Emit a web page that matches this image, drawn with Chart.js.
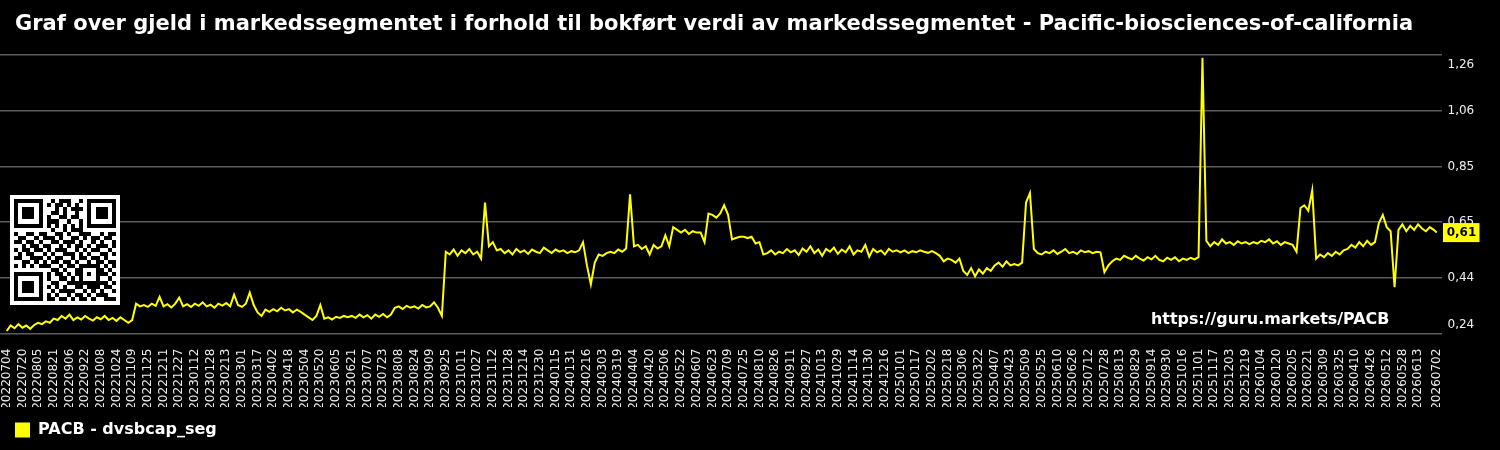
<!DOCTYPE html>
<html>
<head>
<meta charset="utf-8">
<script src="https://cdn.jsdelivr.net/npm/chart.js@4.4.1/dist/chart.umd.min.js"></script>
<style>
  html, body { margin: 0; padding: 0; background: #000; }
</style>
</head>
<body>
<canvas id="chart" width="1500" height="450"></canvas>
<script>
document.addEventListener("DOMContentLoaded", function() {

/*
  ===================== data
*/
const titleText = 'Graf over gjeld i markedssegmentet i forhold til bokført verdi av markedssegmentet - Pacific-biosciences-of-california';
const seriesLabel = 'PACB - dvsbcap_seg';
const watermark = 'https://guru.markets/PACB';

// one value every 4 days from 2022-07-04, last one is 2026-07-02
const firstDay = '2022-07-04';
const lastDay = '2026-07-02';
const stepDays = 4;
const tickStepDays = 16;

const vals2022 = [0.25, 0.27, 0.26, 0.275, 0.262, 0.27, 0.258, 0.272,
  0.28, 0.275, 0.285, 0.28, 0.295,
  0.29, 0.305, 0.295, 0.31, 0.29, 0.3, 0.292, 0.305, 0.295, 0.288,
  0.3, 0.293, 0.305, 0.29, 0.298, 0.287, 0.3, 0.29, 0.28, 0.29,
  0.35, 0.34, 0.345, 0.338, 0.35, 0.342, 0.375, 0.34, 0.348, 0.336, 0.35, 0.372, 0.34];
const vals2023 = [0.348, 0.338, 0.35, 0.342, 0.355, 0.34, 0.346, 0.335, 0.35, 0.343,
  0.352, 0.34, 0.383, 0.345, 0.338, 0.35, 0.39, 0.345,
  0.318, 0.305, 0.328, 0.32, 0.33, 0.322, 0.335, 0.325, 0.33, 0.318, 0.328, 0.32, 0.31,
  0.3, 0.29, 0.305, 0.345, 0.295, 0.3, 0.292, 0.302, 0.298, 0.305,
  0.3, 0.305, 0.298, 0.31, 0.3, 0.308, 0.295, 0.31, 0.302, 0.312, 0.3, 0.31,
  0.335,
  0.34, 0.33, 0.342, 0.335, 0.34, 0.332, 0.345, 0.336, 0.34, 0.355,
  0.335, 0.305,
  0.54, 0.53, 0.548, 0.525, 0.545, 0.535, 0.55, 0.53, 0.54, 0.515,
  0.72,
  0.56, 0.575, 0.545, 0.55, 0.535,
  0.545, 0.53, 0.55, 0.538, 0.545, 0.532, 0.548, 0.54, 0.535];
const vals2024 = [0.555, 0.545, 0.535, 0.548, 0.54, 0.545, 0.535, 0.542, 0.538, 0.545,
  0.575, 0.49, 0.42, 0.5,
  0.53, 0.525, 0.535, 0.54, 0.535, 0.548, 0.54, 0.552,
  0.75,
  0.56, 0.565, 0.55, 0.56, 0.53, 0.565, 0.552, 0.56, 0.6, 0.56,
  0.63, 0.62, 0.61, 0.62, 0.605, 0.615, 0.61, 0.61,
  0.575, 0.68,
  0.675, 0.665, 0.68, 0.71, 0.675,
  0.585,
  0.59, 0.595, 0.595, 0.59, 0.595,
  0.57, 0.575,
  0.53,
  0.535, 0.545, 0.53, 0.54, 0.535, 0.55, 0.538, 0.545, 0.528, 0.552,
  0.54, 0.56, 0.535, 0.548, 0.525, 0.55, 0.54, 0.555, 0.532, 0.548,
  0.538, 0.56, 0.53, 0.545, 0.54, 0.565, 0.522, 0.55, 0.538, 0.545,
  0.53, 0.55, 0.54, 0.545];
const vals2025 = [0.538, 0.545, 0.535, 0.542, 0.538, 0.545, 0.54, 0.536, 0.542, 0.535,
  0.525, 0.505, 0.515, 0.51, 0.5, 0.515,
  0.47, 0.455, 0.48, 0.45, 0.475, 0.46, 0.48, 0.47,
  0.49, 0.5, 0.485, 0.505, 0.49, 0.495, 0.49, 0.5,
  0.72, 0.755,
  0.55, 0.535, 0.53, 0.54, 0.535, 0.545, 0.532, 0.54, 0.55, 0.535,
  0.54, 0.532, 0.545, 0.538, 0.542, 0.535, 0.54, 0.538,
  0.465,
  0.49, 0.505, 0.515, 0.51, 0.525, 0.518, 0.512, 0.525, 0.515, 0.508,
  0.52, 0.512, 0.525, 0.51, 0.505, 0.518, 0.51, 0.52, 0.505, 0.515,
  0.51, 0.518, 0.512, 0.52,
  1.25,
  0.58, 0.56, 0.575, 0.565, 0.585, 0.57, 0.575, 0.565, 0.578, 0.57, 0.575, 0.568, 0.575,
  0.57];
const vals2026 = [0.58, 0.575, 0.585, 0.57, 0.578, 0.565, 0.575, 0.57, 0.565,
  0.54,
  0.7, 0.71, 0.69, 0.765,
  0.515, 0.53, 0.52, 0.535, 0.525, 0.54, 0.53, 0.545,
  0.55, 0.565, 0.555, 0.575, 0.56, 0.58, 0.565, 0.575,
  0.645, 0.675,
  0.63, 0.615, 0.41, 0.62, 0.64, 0.615, 0.635, 0.62, 0.64, 0.625, 0.615, 0.63, 0.62,
  0.61];

const yTicks = [0.24, 0.444, 0.648, 0.852, 1.056, 1.26];
const yTickLabels = ['0,24', '0,44', '0,65', '0,85', '1,06', '1,26'];

// qr code modules (finder / timing / alignment patterns are added in drawQr)
const qrRows = [
  "1011001101011100101101001",
  "0110110010110101001011010",
  "1101011100101011100110101",
  "0010110101101001011101100",
  "1110100110011011010010111",
  "0101101011100100110101001",
  "1010011010101101001101011",
  "0111010101001011100110100",
  "1001101100110100111001011",
  "0110010111010011010110110",
  "1101101001101110100101001",
  "0010110110010101101011101",
  "1011011010111001010110010",
  "0101100101001110101001101",
  "1100111010110010110110100",
  "0011010101101101001011011",
  "1010101110010110110100101",
  "0101011001101001011011010",
  "1110100110110101100101101",
  "0011011010011010111010010",
  "1001101101100111010101101",
  "0110010110101001101110110",
  "1011101001011110010101001",
  "0100110110100101101011100",
  "1101011011011010110100111"
];

/*
  ===================== build
*/
const dayMs = 86400000;
const t0 = Date.parse(firstDay + 'T00:00:00Z');
const t1 = Date.parse(lastDay + 'T00:00:00Z');
const totalDays = Math.round((t1 - t0) / dayMs);

const values = [].concat(vals2022, vals2023, vals2024, vals2025, vals2026);
const dayIndex = values.map((v, i) => i === values.length - 1 ? totalDays : i * stepDays);
const points = values.map((v, i) => ({ x: dayIndex[i], y: v }));

const tickDays = [];
for (let d = 0; d <= totalDays - tickStepDays; d += tickStepDays) tickDays.push(d);
tickDays.push(totalDays);

function fmtDay(d) {
  const dt = new Date(t0 + d * dayMs);
  const mm = String(dt.getUTCMonth() + 1).padStart(2, '0');
  const dd = String(dt.getUTCDate()).padStart(2, '0');
  return dt.getUTCFullYear() + mm + dd;
}

function drawQr(ctx, x0, y0, size) {
  const n = 25;
  const m = size / (n + 2);
  const grid = qrRows.map(r => r.split('').map(Number));
  [[0, 0], [0, 18], [18, 0]].forEach(([r0, c0]) => {
    for (let r = -1; r <= 7; r++) {
      for (let c = -1; c <= 7; c++) {
        const rr = r0 + r, cc = c0 + c;
        if (rr < 0 || cc < 0 || rr >= n || cc >= n) continue;
        const ring = Math.max(Math.abs(r - 3), Math.abs(c - 3));
        grid[rr][cc] = (ring === 3 || ring <= 1) ? 1 : 0;
      }
    }
  });
  for (let k = 8; k <= 16; k++) {
    grid[6][k] = k % 2 === 0 ? 1 : 0;
    grid[k][6] = k % 2 === 0 ? 1 : 0;
  }
  for (let r = -2; r <= 2; r++) {
    for (let c = -2; c <= 2; c++) {
      const ring = Math.max(Math.abs(r), Math.abs(c));
      grid[18 + r][18 + c] = ring === 1 ? 0 : 1;
    }
  }
  ctx.fillStyle = '#fff';
  ctx.fillRect(x0, y0, size, size);
  ctx.fillStyle = '#000';
  for (let r = 0; r < n; r++) {
    for (let c = 0; c < n; c++) {
      if (!grid[r][c]) continue;
      const xa = Math.round(x0 + m * (c + 1)), xb = Math.round(x0 + m * (c + 2));
      const ya = Math.round(y0 + m * (r + 1)), yb = Math.round(y0 + m * (r + 2));
      ctx.fillRect(xa, ya, xb - xa, yb - ya);
    }
  }
}

// title, y labels, last value, watermark, qr
const overlay = {
  id: 'overlay',
  beforeDraw(chart) {
    const ctx = chart.ctx;
    ctx.save();
    ctx.fillStyle = '#000';
    ctx.fillRect(0, 0, chart.width, chart.height);
    ctx.restore();
  },
  afterDraw(chart) {
    const ctx = chart.ctx;
    const yScale = chart.scales.y;
    const area = chart.chartArea;
    ctx.save();
    ctx.textAlign = 'left';
    ctx.textBaseline = 'middle';

    ctx.fillStyle = '#fff';
    ctx.font = 'bold 21px "DejaVu Sans"';
    ctx.fillText(titleText, 15, 25);

    ctx.font = '12px "DejaVu Sans"';
    ctx.fillStyle = '#eeeeee';
    yTicks.forEach((v, i) => {
      let py = yScale.getPixelForValue(v);
      if (i === 0) py -= 9;
      if (i === yTicks.length - 1) py += 9.5;
      ctx.fillText(yTickLabels[i], area.right + 5.5, py);
    });

    const last = values[values.length - 1];
    const ly = yScale.getPixelForValue(last);
    ctx.fillStyle = '#ffff00';
    ctx.fillRect(area.right + 1, ly - 9.5, 36.5, 19);
    ctx.fillStyle = '#000';
    ctx.font = 'bold 12px "DejaVu Sans"';
    ctx.textAlign = 'center';
    ctx.fillText(last.toFixed(2).replace('.', ','), area.right + 19.5, ly + 0.5);

    ctx.fillStyle = '#fff';
    ctx.font = 'bold 15.9px "DejaVu Sans"';
    ctx.textAlign = 'left';
    ctx.fillText(watermark, 1151, 320);

    drawQr(ctx, 10, 195, 110);
    ctx.restore();
  }
};

new Chart(document.getElementById('chart'), {
  type: 'line',
  data: {
    datasets: [{
      label: seriesLabel,
      data: points,
      borderColor: '#ffff00',
      backgroundColor: '#ffff00',
      borderWidth: 2,
      pointRadius: 0,
      tension: 0
    }]
  },
  options: {
    responsive: false,
    animation: false,
    layout: {
      padding: { top: 55, right: 58, bottom: 2, left: 0 }
    },
    scales: {
      x: {
        type: 'linear',
        min: -6.84,
        max: 1464.4,
        grid: { display: false, drawTicks: false },
        border: { display: false },
        afterBuildTicks: (axis) => { axis.ticks = tickDays.map(d => ({ value: d })); },
        afterFit: (axis) => {
          axis.height = 73.3;
          axis.paddingLeft = 0;
          axis.paddingRight = 0;
        },
        ticks: {
          autoSkip: false,
          minRotation: 90,
          maxRotation: 90,
          padding: 15,
          color: '#eeeeee',
          font: { family: 'DejaVu Sans', size: 12 },
          callback: (v) => fmtDay(v)
        }
      },
      y: {
        position: 'right',
        min: 0.24,
        max: 1.26,
        afterBuildTicks: (axis) => { axis.ticks = yTicks.map(v => ({ value: v })); },
        grid: { color: '#5c5c5c', lineWidth: 1.6, drawTicks: false },
        border: { display: false },
        ticks: { display: false }
      }
    },
    plugins: {
      legend: {
        position: 'bottom',
        align: 'start',
        labels: {
          color: '#fff',
          boxWidth: 15,
          boxHeight: 15,
          padding: 15,
          font: { family: 'DejaVu Sans', size: 16, weight: 'bold' },
          generateLabels: (chart) => Chart.defaults.plugins.legend.labels.generateLabels(chart)
            .map(item => Object.assign(item, { lineWidth: 0 }))
        }
      },
      tooltip: { enabled: false }
    }
  },
  plugins: [overlay]
});

});
</script>
</body>
</html>
